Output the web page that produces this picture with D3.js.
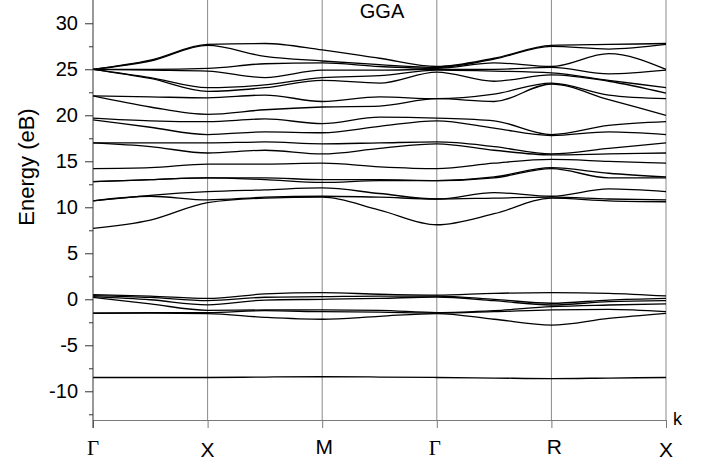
<!DOCTYPE html>
<html>
<head>
<meta charset="utf-8">
<script src="https://cdn.jsdelivr.net/npm/d3@7"></script>
<style>
  body { margin: 0; background: #fff; }
  text { font-family: "Liberation Sans", Arial, sans-serif; }
</style>
</head>
<body>
<svg id="chart"></svg>
<script>
// k path positions (high-symmetry points at integers, midpoints in between)
const kPath = [0, 0.5, 1, 1.5, 2, 2.5, 3, 3.5, 4, 4.5, 5];
const kTicks = [0, 1, 2, 3, 4, 5];
const kLabels = ["Γ", "X", "M", "Γ", "R", "X"];
const yMajorTicks = [-10, -5, 0, 5, 10, 15, 20, 25, 30];
const yMinorTicks = [-12.5, -7.5, -2.5, 2.5, 7.5, 12.5, 17.5, 22.5, 27.5];

// energies (eV) at each k sample, one row per k, sorted high to low
const conductionLevels = [
    [25.0, 25.0, 25.0, 25.0, 25.0, 25.0, 22.1, 22.1, 19.7, 19.5, 17.0, 17.0, 14.2, 12.8, 12.8, 10.7, 10.7, 7.7],
    [26.0, 25.9, 25.0, 24.9, 24.1, 24.0, 22.0, 20.9, 19.4, 18.7, 17.0, 16.6, 14.3, 13.0, 13.0, 11.3, 11.2, 8.6],
    [27.7, 27.6, 25.1, 24.8, 23.0, 22.6, 21.9, 20.1, 19.3, 17.9, 17.0, 15.9, 14.7, 13.2, 13.2, 11.7, 10.8, 10.5],
    [27.8, 26.4, 25.6, 24.1, 23.3, 23.0, 22.2, 20.6, 19.6, 18.2, 17.1, 16.2, 14.7, 13.2, 13.0, 11.9, 11.1, 11.0],
    [27.1, 25.9, 25.7, 24.9, 24.1, 23.8, 21.5, 20.9, 19.1, 18.1, 16.9, 15.8, 14.8, 13.0, 12.7, 12.1, 11.2, 11.1],
    [26.2, 25.5, 25.3, 24.9, 24.3, 23.5, 22.0, 21.0, 19.8, 18.8, 17.0, 16.4, 14.4, 13.0, 12.9, 11.5, 11.1, 9.7],
    [25.3, 25.2, 25.1, 25.0, 24.9, 24.7, 21.8, 21.8, 19.7, 19.4, 17.1, 16.9, 14.2, 12.9, 12.9, 10.9, 10.9, 8.1],
    [26.2, 26.1, 25.7, 25.0, 24.8, 23.7, 22.3, 21.5, 19.4, 18.6, 16.6, 16.2, 14.8, 13.3, 13.2, 11.6, 11.0, 9.3],
    [27.6, 27.5, 25.3, 25.2, 24.6, 24.4, 23.5, 23.4, 17.9, 17.8, 15.8, 15.7, 15.2, 14.3, 14.2, 11.2, 11.1, 11.0],
    [27.7, 27.2, 26.7, 24.5, 23.8, 23.7, 22.2, 21.7, 18.9, 18.2, 16.4, 15.8, 15.0, 13.7, 13.2, 12.0, 10.9, 10.7],
    [27.8, 27.7, 25.0, 24.9, 23.0, 22.4, 21.8, 20.0, 19.3, 17.9, 17.0, 15.9, 14.8, 13.3, 13.2, 11.7, 10.8, 10.6]
];

const valenceLevels = [
    [0.50, 0.40, 0.30, 0.20, -1.50, -1.52],
    [0.35, 0.20, -0.05, -0.50, -1.45, -1.50],
    [0.10, -0.15, -0.60, -1.20, -1.45, -1.55],
    [0.58, 0.22, -0.08, -1.16, -1.24, -1.96],
    [0.72, 0.28, 0.00, -1.16, -1.35, -2.17],
    [0.55, 0.35, 0.10, -1.20, -1.40, -1.85],
    [0.45, 0.35, 0.25, -1.45, -1.50, -1.55],
    [0.65, 0.00, -0.15, -1.24, -1.35, -2.17],
    [0.72, -0.43, -0.62, -0.80, -1.16, -2.80],
    [0.65, -0.08, -0.26, -0.62, -1.09, -2.07],
    [0.36, 0.10, -0.15, -0.50, -1.35, -1.52]
];

const coreLevel = [-8.5, -8.5, -8.5, -8.45, -8.42, -8.45, -8.5, -8.56, -8.62, -8.56, -8.5];

const width = 710, height = 463;
const margin = { top: 0, left: 93, right: 44, bottom: 43 };

const svg = d3.select("#chart")
    .attr("width", width)
    .attr("height", height);

const x = d3.scaleLinear().domain([0, 5]).range([margin.left, width - margin.right]);
const y = d3.scaleLinear().domain([-13.12, 32.53]).range([height - margin.bottom, margin.top]);

// vertical lines at the high-symmetry points
svg.append("g")
    .selectAll("line")
    .data(kTicks.slice(1))
    .join("line")
    .attr("x1", d => x(d)).attr("x2", d => x(d))
    .attr("y1", y.range()[1]).attr("y2", y.range()[0])
    .attr("stroke", "#8a8a8a")
    .attr("stroke-width", 1);

// bands
const bands = [];
[conductionLevels, valenceLevels].forEach(levels => {
    for (let i = 0; i < levels[0].length; i++) {
        bands.push(kPath.map((k, j) => ({ k: k, e: levels[j][i] })));
    }
});
bands.push(kPath.map((k, j) => ({ k: k, e: coreLevel[j] })));

const line = d3.line()
    .x(d => x(d.k))
    .y(d => y(d.e))
    .curve(d3.curveMonotoneX);

svg.append("g")
    .selectAll("path")
    .data(bands)
    .join("path")
    .attr("d", line)
    .attr("fill", "none")
    .attr("stroke", "#000")
    .attr("stroke-width", 1.3);

// x axis
const xAxis = svg.append("g")
    .attr("transform", `translate(0, ${y.range()[0]})`)
    .call(d3.axisBottom(x).tickValues(kTicks).tickSize(8).tickSizeOuter(0).tickFormat(""));
xAxis.select(".domain").attr("stroke", "#7a7a7a");
xAxis.selectAll(".tick line").attr("stroke", "#7a7a7a");

const labelShift = [0, 0, 2, -2, 3, 0];
const labelBase = [455, 457, 454, 455, 454, 457];
svg.append("g")
    .selectAll("text")
    .data(kTicks)
    .join("text")
    .attr("x", (d, i) => x(d) + labelShift[i])
    .attr("y", (d, i) => labelBase[i])
    .attr("text-anchor", "middle")
    .style("font-family", (d, i) => kLabels[i] === "Γ" ? "'Liberation Serif', 'Times New Roman', serif" : null)
    .style("font-size", "21px")
    .attr("fill", "#000")
    .text((d, i) => kLabels[i]);

svg.append("text")
    .attr("x", 673)
    .attr("y", 425)
    .style("font-size", "18px")
    .text("k");

// y axis
const yAxis = svg.append("g")
    .attr("transform", `translate(${margin.left}, 0)`)
    .call(d3.axisLeft(y).tickValues(yMajorTicks).tickSize(8).tickPadding(7).tickSizeOuter(0)
        .tickFormat(d => String(d)));
yAxis.select(".domain").remove();
yAxis.selectAll(".tick line").attr("stroke", "#333");
yAxis.selectAll(".tick text").style("font-size", "20px").attr("fill", "#000");

const yMinor = svg.append("g")
    .attr("transform", `translate(${margin.left}, 0)`)
    .call(d3.axisLeft(y).tickValues(yMinorTicks).tickSize(4).tickFormat(""));
yMinor.select(".domain").remove();
yMinor.selectAll(".tick line").attr("stroke", "#333");

svg.append("line")
    .attr("x1", margin.left).attr("x2", margin.left)
    .attr("y1", 0).attr("y2", y.range()[0] + 8)
    .attr("stroke", "#333")
    .attr("stroke-width", 1);

svg.append("text")
    .attr("transform", "translate(34, 167) rotate(-90)")
    .attr("text-anchor", "middle")
    .style("font-size", "22px")
    .text("Energy (eB)");

svg.append("text")
    .attr("x", 382)
    .attr("y", 18)
    .attr("text-anchor", "middle")
    .style("font-size", "20px")
    .text("GGA");
</script>
</body>
</html>
